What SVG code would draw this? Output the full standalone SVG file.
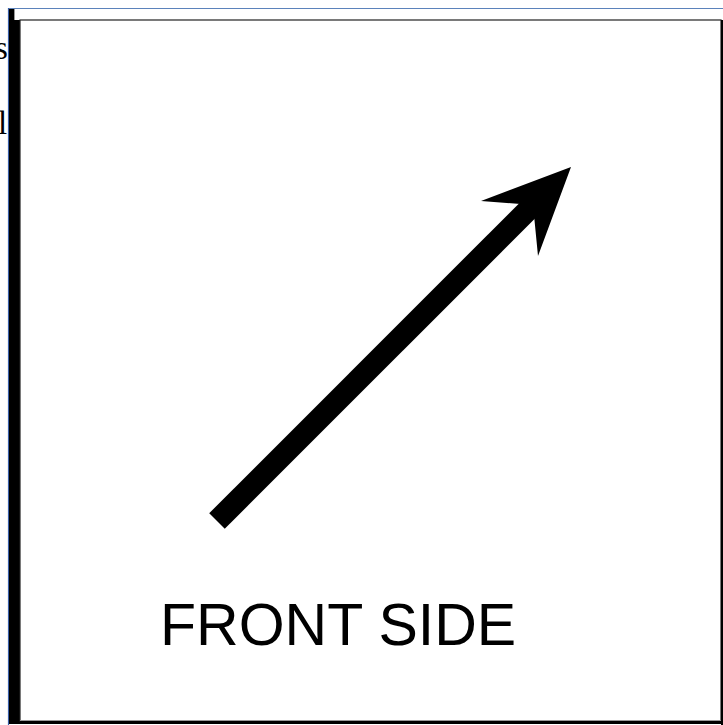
<svg xmlns="http://www.w3.org/2000/svg" width="723" height="725" viewBox="0 0 723 725">
<style>
.bg{fill:#ffffff}
.cut{font-family:"Liberation Serif","Times New Roman",serif;font-size:33px;fill:#000}
.label{font-family:"Liberation Sans",Arial,sans-serif;font-size:59px;fill:#000}
</style>
<rect class="bg" x="0" y="0" width="723" height="725"/>
<text class="cut" x="-5" y="59">s</text>
<text class="cut" x="-2" y="134">l</text>
<line x1="8" y1="8.5" x2="723" y2="8.5" stroke="#5b82bb" stroke-width="1.2"/>
<line x1="8.5" y1="8" x2="8.5" y2="725" stroke="#3a5fa8" stroke-width="1.2"/>
<g id="frame">
<rect x="9" y="9" width="11" height="715" fill="#000"/>
<rect x="14" y="9" width="709" height="11" fill="#fff"/>
<line x1="14.5" y1="9" x2="14.5" y2="20" stroke="#999" stroke-width="1"/>
<rect x="20" y="20" width="701" height="701" fill="#fff" stroke="#222" stroke-width="1.2"/>
<rect x="721" y="20" width="2" height="705" fill="#000"/>
<rect x="20" y="721" width="703" height="3" fill="#000"/>
<line x1="20" y1="720.5" x2="721" y2="720.5" stroke="#999" stroke-width="1"/>
</g>
<g id="connectors">
<line x1="217" y1="521" x2="537" y2="201" stroke="#000" stroke-width="22"/>
<polygon points="571,167 538,256 533,205 481,201" fill="#000"/>
</g>
<g id="label">
<text class="label" x="160" y="645">FRONT SIDE</text>
</g>
</svg>
